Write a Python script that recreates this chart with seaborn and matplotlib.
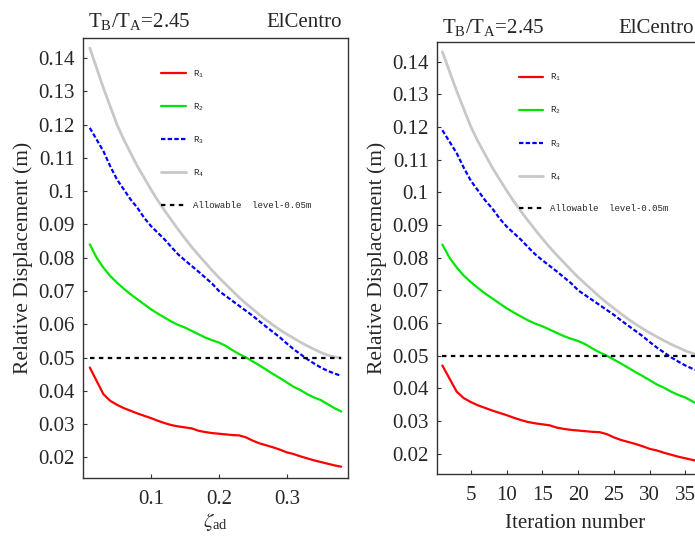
import numpy as np
import pandas as pd
import matplotlib
matplotlib.use("Agg")
import matplotlib.pyplot as plt
from matplotlib.ticker import FuncFormatter, MultipleLocator, FixedLocator
import seaborn as sns

# Data (38 iterations, zeta_ad = 0.01 * iteration)
iterations = list(range(1, 39))
zeta_ad = [0.01, 0.02, 0.03, 0.04, 0.05, 0.06, 0.07, 0.08, 0.09, 0.10,
           0.11, 0.12, 0.13, 0.14, 0.15, 0.16, 0.17, 0.18, 0.19, 0.20,
           0.21, 0.22, 0.23, 0.24, 0.25, 0.26, 0.27, 0.28, 0.29, 0.30,
           0.31, 0.32, 0.33, 0.34, 0.35, 0.36, 0.37, 0.38]

r1 = [0.0470, 0.0430, 0.0390, 0.0370, 0.0358, 0.0348, 0.0340, 0.0332, 0.0325, 0.0318,
      0.0310, 0.0303, 0.0297, 0.0293, 0.0290, 0.0287, 0.0280, 0.0276, 0.0273, 0.0271,
      0.0269, 0.0267, 0.0266, 0.0260, 0.0250, 0.0242, 0.0236, 0.0230, 0.0223, 0.0215,
      0.0210, 0.0203, 0.0197, 0.0191, 0.0186, 0.0181, 0.0176, 0.0172]
r2 = [0.0840, 0.0800, 0.0770, 0.0745, 0.0725, 0.0707, 0.0690, 0.0675, 0.0660, 0.0645,
      0.0632, 0.0620, 0.0608, 0.0598, 0.0590, 0.0580, 0.0570, 0.0560, 0.0552, 0.0545,
      0.0535, 0.0522, 0.0510, 0.0500, 0.0488, 0.0476, 0.0463, 0.0450, 0.0438, 0.0425,
      0.0412, 0.0402, 0.0390, 0.0380, 0.0372, 0.0360, 0.0348, 0.0338]
r3 = [0.1190, 0.1155, 0.1120, 0.1075, 0.1035, 0.1005, 0.0975, 0.0950, 0.0920, 0.0895,
      0.0875, 0.0855, 0.0832, 0.0810, 0.0792, 0.0775, 0.0758, 0.0740, 0.0722, 0.0700,
      0.0685, 0.0670, 0.0655, 0.0640, 0.0625, 0.0608, 0.0592, 0.0576, 0.0560, 0.0542,
      0.0525, 0.0510, 0.0495, 0.0482, 0.0470, 0.0460, 0.0452, 0.0445]
r4 = [0.1430, 0.1370, 0.1310, 0.1255, 0.1200, 0.1155, 0.1115, 0.1075, 0.1040, 0.1005,
      0.0972, 0.0942, 0.0913, 0.0885, 0.0858, 0.0832, 0.0808, 0.0785, 0.0762, 0.0740,
      0.0720, 0.0700, 0.0680, 0.0662, 0.0645, 0.0628, 0.0612, 0.0597, 0.0583, 0.0570,
      0.0558, 0.0546, 0.0535, 0.0525, 0.0515, 0.0507, 0.0502, 0.0498]
allowable = 0.05

series_names = ["$\\mathregular{R_1}$", "$\\mathregular{R_2}$", "$\\mathregular{R_3}$", "$\\mathregular{R_4}$"]
series_vals = [r1, r2, r3, r4]
colors = ["#ff0000", "#00e600", "#0000ff", "#c8c8c8"]
styles = ["-", "-", (0, (2, 1)), "-"]
widths = [1.6, 1.6, 1.6, 2.0]

sns.set_style("ticks", {"xtick.direction": "in", "ytick.direction": "in"})
plt.rcParams["font.family"] = ["Liberation Serif", "DejaVu Serif"]
plt.rcParams["mathtext.fontset"] = "stix"

fig = plt.figure(figsize=(6.95, 5.37), dpi=100)
W, H = 695, 537


def px_axes(x0, y0, x1, y1):
    return fig.add_axes([x0 / W, 1 - y1 / H, (x1 - x0) / W, (y1 - y0) / H])


ax1 = px_axes(83, 38, 348, 478)
ax2 = px_axes(437, 42, 714, 474)

fmt = FuncFormatter(lambda v, p: ("%.2f" % v).rstrip("0"))

for ax, xs, xlim, xlabel in [(ax1, zeta_ad, (0.0, 0.39), "$\\zeta_{\\mathregular{ad}}$"),
                             (ax2, iterations, (0.25, 39.0), "Iteration number")]:
    for name, vals, c, ls, lw in zip(series_names, series_vals, colors, styles, widths):
        sns.lineplot(x=xs, y=vals, ax=ax, color=c, linestyle=ls, linewidth=lw, label=name)
    ax.hlines(allowable, xs[0], xs[-1], colors="black", linestyles=(0, (2, 2)),
              linewidth=1.6, label="Allowable  level-0.05m")
    ax.set_xlim(*xlim)
    ax.set_ylim(0.0138, 0.146)
    ax.yaxis.set_major_locator(MultipleLocator(0.01))
    ax.yaxis.set_major_formatter(fmt)
    if ax is ax1:
        ax.xaxis.set_major_locator(FixedLocator([0.1, 0.2, 0.3]))
        ax.xaxis.set_major_formatter(fmt)
    else:
        ax.xaxis.set_major_locator(MultipleLocator(5))
    ax.tick_params(labelsize=15, length=3, width=0.8, color="#333333", pad=6)
    ax.tick_params(axis="x", pad=9)
    for sp in ax.spines.values():
        sp.set_visible(True)
        sp.set_color("#333333")
        sp.set_linewidth(1.0)
    ax.set_xlabel(xlabel, fontsize=15, labelpad=6 if ax is ax2 else 1)
    ax.set_ylabel("Relative Displacement (m)", fontsize=15.5, labelpad=4)
    leg = ax.legend(loc="upper left", bbox_to_anchor=(0.265, 0.95), frameon=False,
                    prop={"family": "Liberation Mono", "size": 6.5},
                    handlelength=2.7, handletextpad=0.8, labelspacing=2.4)

# panel captions
ax1.text(0.02, 1.025, "$\\mathregular{T_B/T_A}$=2.45", transform=ax1.transAxes,
         fontsize=15, ha="left", va="baseline")
ax1.text(0.977, 1.025, "ElCentro", transform=ax1.transAxes,
         fontsize=15, ha="right", va="baseline")
ax2.text(0.018, 1.02, "$\\mathregular{T_B/T_A}$=2.45", transform=ax2.transAxes,
         fontsize=15, ha="left", va="baseline")
ax2.text((694 - 437) / 277, 1.02, "ElCentro", transform=ax2.transAxes,
         fontsize=15, ha="right", va="baseline")

fig.savefig("out.png", dpi=100)
